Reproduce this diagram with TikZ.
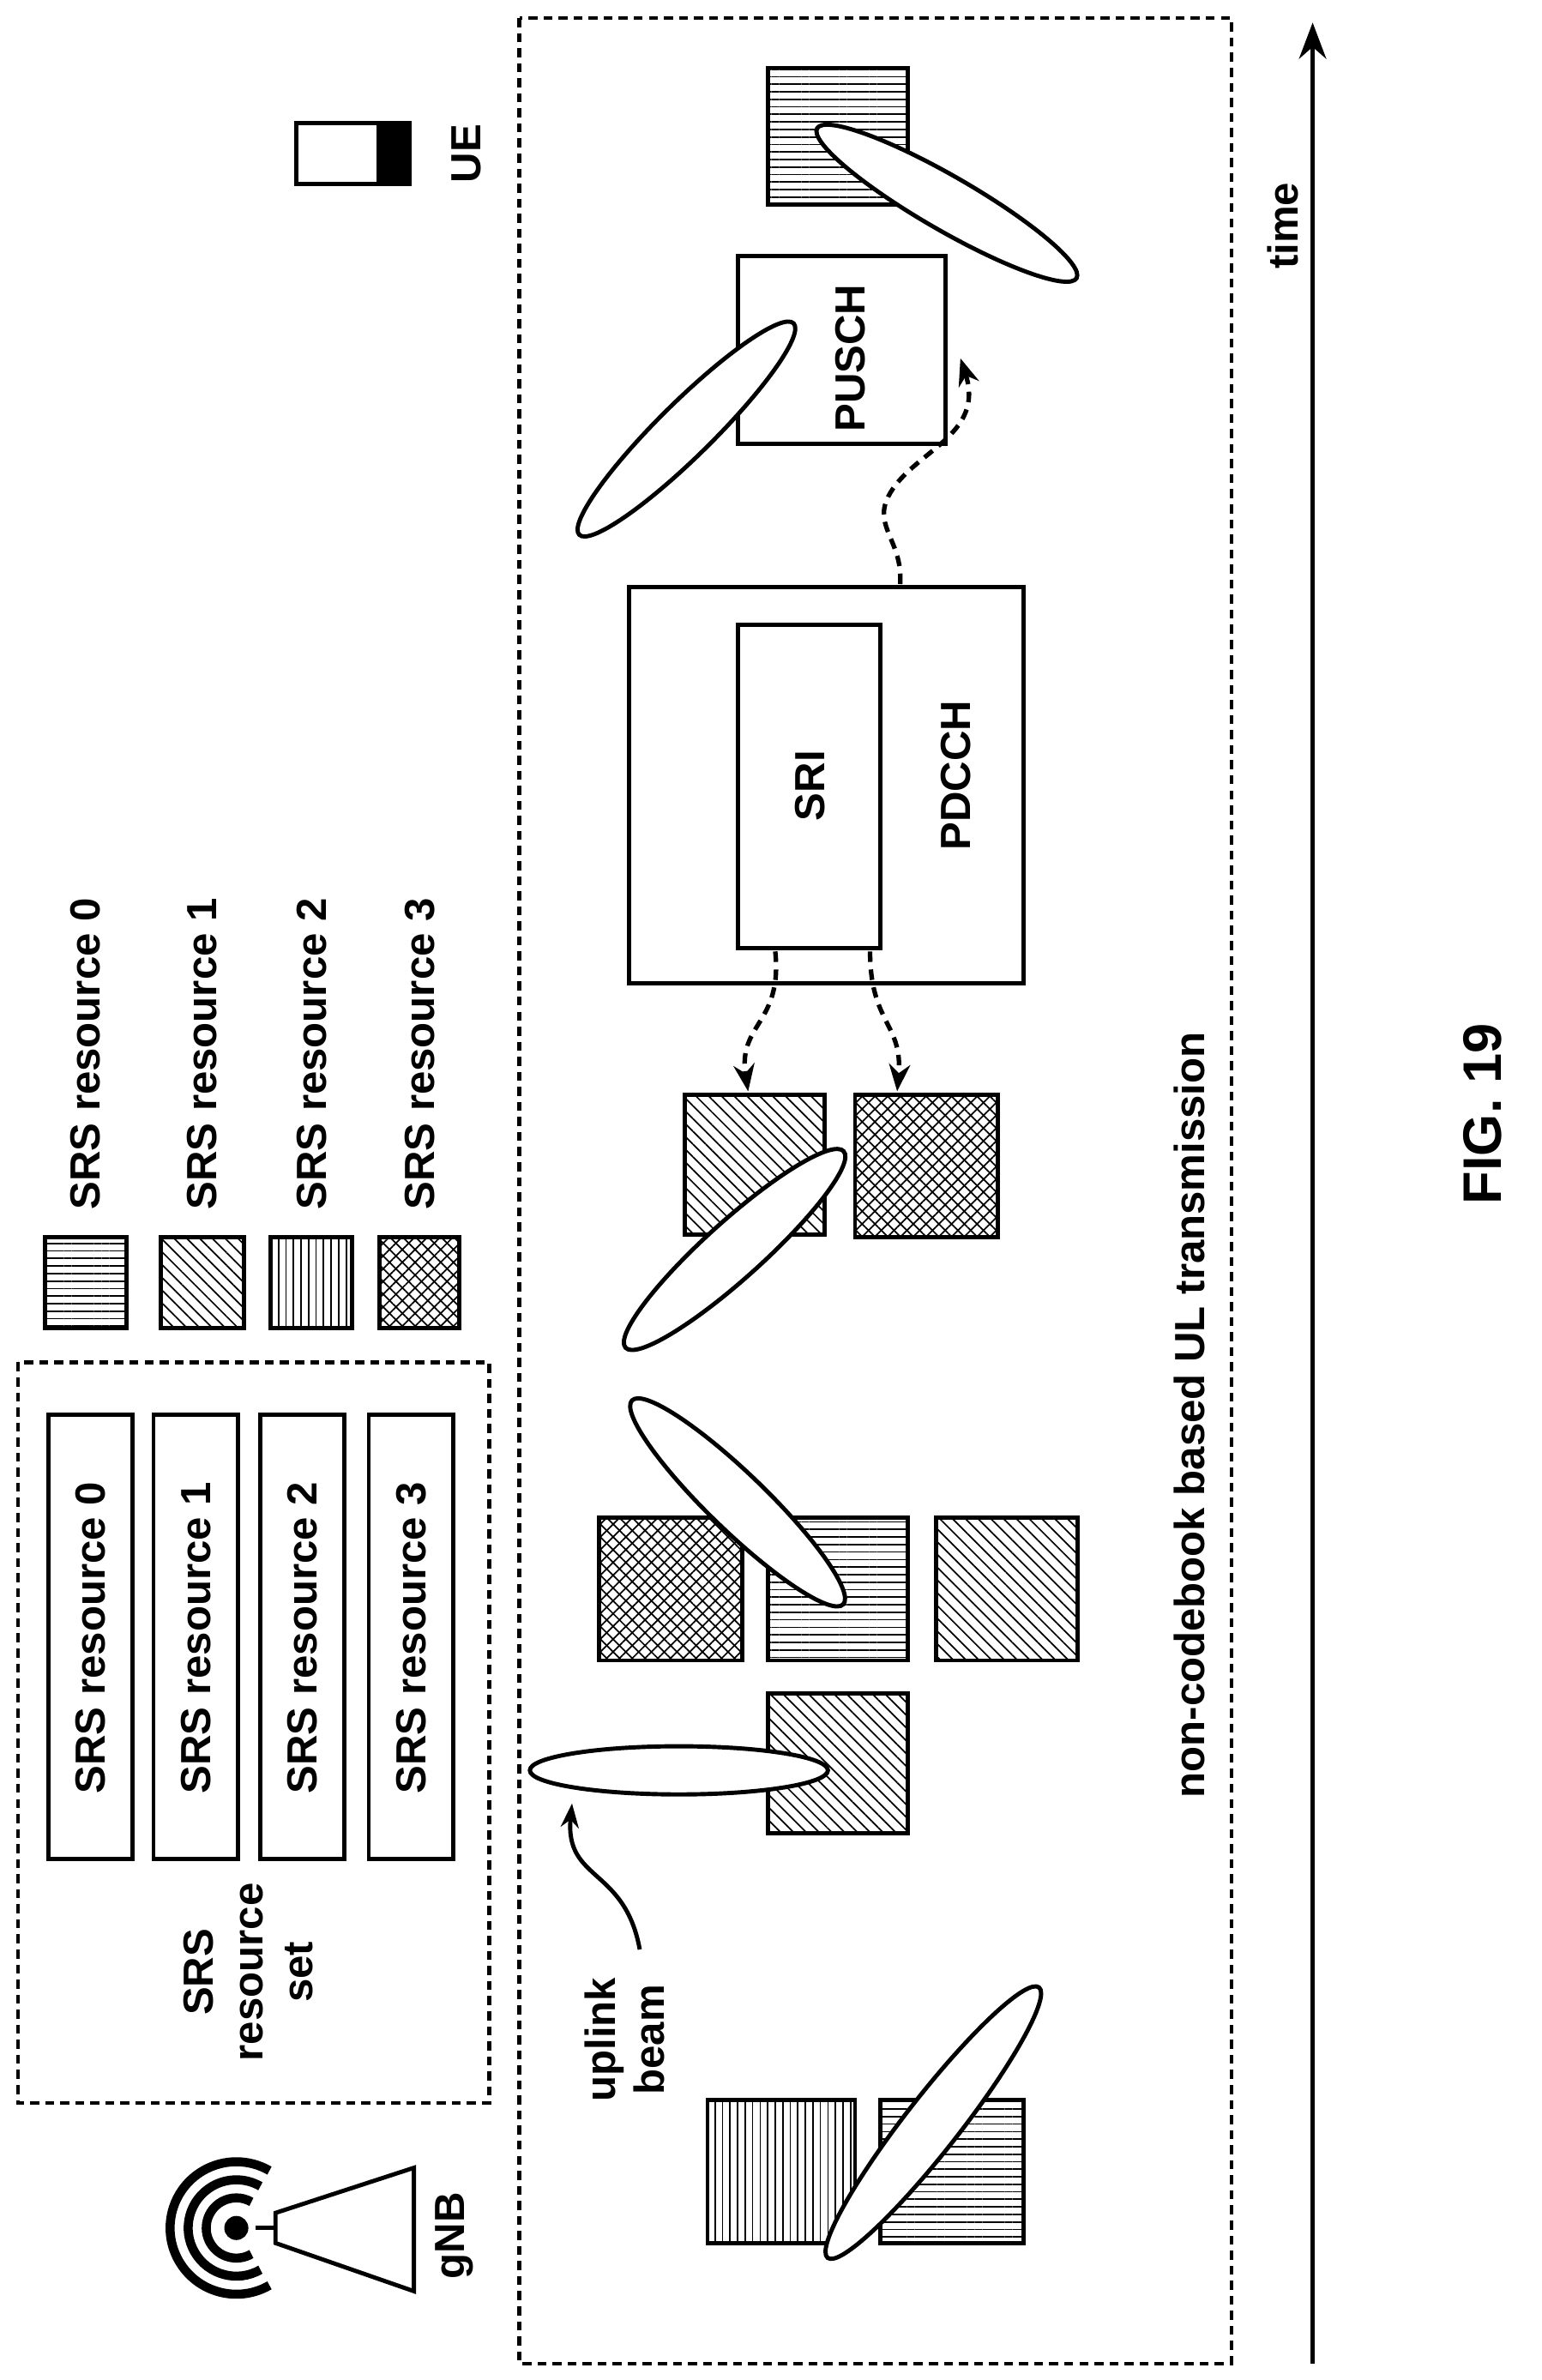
\documentclass[tikz,border=0pt]{standalone}
\usepackage{fontspec}
\setmainfont{Liberation Sans}
\usetikzlibrary{shapes.geometric,patterns.meta,arrows.meta}
\begin{document}
\begin{tikzpicture}[x=1pt,y=-1pt,line width=2.8pt,
  lbl/.style={font=\fontsize{28}{33}\selectfont\bfseries,rotate=90,inner sep=0},
  hl/.style={pattern={Lines[angle=0,distance=5pt,line width=1pt]}},
  vl/.style={pattern={Lines[angle=90,distance=5pt,line width=1pt]}},
  dl/.style={pattern={Lines[angle=-45,distance=6pt,line width=1pt]}},
  xl/.style={pattern={Lines[angle=45,distance=6pt,line width=1pt]}},
  beam/.style={draw,fill=white,ellipse,line width=2.8pt,inner sep=0},
  darr/.style={dash pattern=on 7pt off 5pt,line width=3pt,-{Stealth[length=18pt,width=14pt]}}]
\useasboundingbox (0,0) rectangle (1024,1581);
% boxes
\draw[line width=2.5pt,dash pattern=on 6pt off 4pt] (345,12) rectangle (818,1570);
\draw[line width=2.5pt,dash pattern=on 6pt off 4pt] (12,905) rectangle (325,1397);
\foreach \x/\i in {32/0,102/1,173/2,245/3}{
  \draw (\x,940) rectangle (\x+56,1235);
  \node[lbl] (b\i) at (\x+28,1088) {SRS resource \i};}
\node[lbl,align=center] (set) at (165,1310) {SRS\\resource\\set};
% legend
\draw[hl] (30,822) rectangle (84,882);
\draw[dl] (107,822) rectangle (162,882);
\draw[vl] (180,822) rectangle (234,882);
\draw[xl] (252,822) rectangle (305,882);
\draw[dl] (252,822) rectangle (305,882);
\foreach \x/\i in {57/0,134/1,207/2,279/3}
  \node[lbl,anchor=west] (l\i) at (\x,805) {SRS resource \i};
% UE
\draw (197,82) rectangle (272,122);
\fill (250,82) rectangle (272,122);
\node[lbl] (ue) at (310,102) {UE};
% gNB
\fill (157,1480) circle (8);
\foreach \r in {20,32,44} \draw[line width=6pt] (157,1480) ++(60:\r) arc (60:300:\r);
\draw (170,1480) -- (183,1480);
\draw (183,1470) -- (275,1440) -- (275,1522) -- (183,1490) -- cycle;
\node[lbl] (gnb) at (302,1485) {gNB};
% time
\draw[line width=3pt,-{Stealth[length=24pt,width=18pt]}] (872,1570) -- (872,15);
\node[lbl] (time) at (852,150) {time};
\node[lbl] (nc) at (790,940) {non-codebook based UL transmission};
\node[font=\fontsize{36}{40}\selectfont\bfseries,rotate=90,inner sep=0] (fig) at (985,740) {FIG. 19};
% squares
\draw[vl] (470,1395) rectangle (568,1490);
\draw[hl] (585,1395) rectangle (680,1490);
\node[beam,minimum width=228,minimum height=36,rotate=52] (e1) at (620,1410) {};
\node[lbl,align=center] (ub) at (415,1355) {uplink\\beam};
\draw[-{Stealth[length=16pt,width=12pt]}] (425,1295) .. controls (415,1240) and (375,1250) .. (380,1198);
\draw[dl] (510,1125) rectangle (603,1218);
\node[beam,minimum width=198,minimum height=32] (e2) at (451,1176) {};
\draw[xl] (398,1008) rectangle (493,1103);
\draw[dl] (398,1008) rectangle (493,1103);
\draw[hl] (510,1008) rectangle (603,1103);
\draw[dl] (622,1008) rectangle (716,1103);
\node[beam,minimum width=195,minimum height=38,rotate=-44] (e3) at (490,998) {};
\draw[dl] (455,727) rectangle (548,820);
\draw[xl] (568,727) rectangle (663,822);
\draw[dl] (568,727) rectangle (663,822);
\node[beam,minimum width=195,minimum height=38,rotate=42] (e4) at (488,830) {};
% PDCCH
\draw (418,390) rectangle (680,653);
\draw (490,415) rectangle (585,630);
\node[lbl] (sri) at (538,522) {SRI};
\node[lbl] (pdcch) at (635,515) {PDCCH};
\draw[darr] (515,632) .. controls (520,680) and (490,680) .. (497,725);
\draw[darr] (578,632) .. controls (578,680) and (600,680) .. (596,725);
\draw[darr] (598,388) .. controls (600,360) and (580,350) .. (590,330) .. controls (605,300) and (655,290) .. (638,238);
% PUSCH
\draw (490,170) rectangle (628,295);
\node[lbl] (pusch) at (565,238) {PUSCH};
\node[beam,minimum width=200,minimum height=36,rotate=44.6] (e5) at (456,285) {};
\draw[hl] (510,45) rectangle (603,136);
\node[beam,minimum width=199,minimum height=36,rotate=-30] (e6) at (629,135) {};
\end{tikzpicture}
\end{document}
